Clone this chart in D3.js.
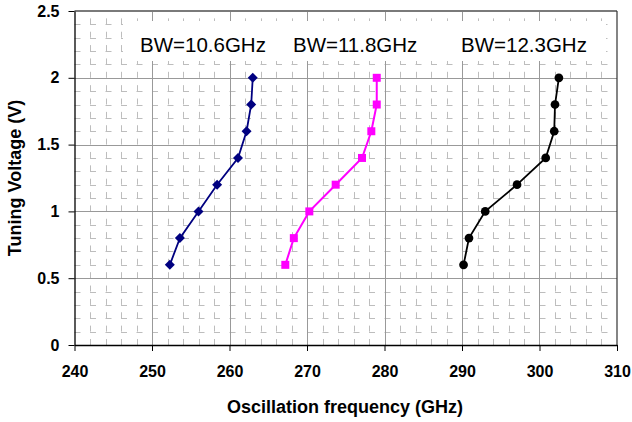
<!DOCTYPE html>
<html>
<head>
<meta charset="utf-8">
<script src="https://cdn.jsdelivr.net/npm/d3@7"></script>
<style>
  body { margin: 0; background: #fff; }
  svg { display: block; }
</style>
</head>
<body>
<div id="chart"></div>
<script>
const voltage = [0.6, 0.8, 1.0, 1.2, 1.4, 1.6, 1.8, 2.0];
const freqBW106 = [252.3, 253.6, 256.0, 258.4, 261.1, 262.2, 262.8, 263.0];
const freqBW118 = [267.2, 268.3, 270.3, 273.7, 277.1, 278.3, 279.0, 279.0];
const freqBW123 = [290.2, 290.9, 293.0, 297.1, 300.8, 301.9, 302.0, 302.5];
const seriesLabels = ["BW=10.6GHz", "BW=11.8GHz", "BW=12.3GHz"];
const xTicks = [240, 250, 260, 270, 280, 290, 300, 310];
const yTicks = [0, 0.5, 1, 1.5, 2, 2.5];

(function() {
  const width = 632, height = 422;
  const left = 74.5, right = 617, top = 11, bottom = 345;

  const svg = d3.select("#chart").append("svg")
    .attr("width", width).attr("height", height);

  const x = d3.scaleLinear().domain([240, 310]).range([left, right]);
  const y = d3.scaleLinear().domain([0, 2.5]).range([bottom, top]);

  // minor dashed grid
  const xMinor = d3.range(240, 310.01, 2).filter(v => v % 10 !== 0);
  const yMinor = d3.range(0, 25).map(i => i / 10).filter(v => Math.round(v * 10) % 5 !== 0);
  const px = x(242) - x(240), py = y(0) - y(0.1);

  svg.append("g").selectAll("line").data(yMinor).join("line")
    .attr("x1", left).attr("x2", right)
    .attr("y1", d => Math.round(y(d)) + 0.5).attr("y2", d => Math.round(y(d)) + 0.5)
    .attr("stroke", "#bdbdbd").attr("stroke-width", 1)
    .attr("stroke-dasharray", `6 ${px - 6}`);

  svg.append("g").selectAll("line").data(xMinor).join("line")
    .attr("x1", d => Math.round(x(d)) + 0.5).attr("x2", d => Math.round(x(d)) + 0.5)
    .attr("y1", bottom).attr("y2", top)
    .attr("stroke", "#bdbdbd").attr("stroke-width", 1)
    .attr("stroke-dasharray", `6 ${py - 6}`);

  // major grid
  svg.append("g").selectAll("line").data(yTicks.slice(1, -1)).join("line")
    .attr("x1", left).attr("x2", right)
    .attr("y1", d => Math.round(y(d)) + 0.5).attr("y2", d => Math.round(y(d)) + 0.5)
    .attr("stroke", "#999").attr("stroke-width", 1);
  svg.append("g").selectAll("line").data(xTicks.slice(1, -1)).join("line")
    .attr("x1", d => Math.round(x(d)) + 0.5).attr("x2", d => Math.round(x(d)) + 0.5)
    .attr("y1", bottom).attr("y2", top)
    .attr("stroke", "#999").attr("stroke-width", 1);

  // label boxes (white fill hiding grid)
  svg.append("rect").attr("x", 123).attr("y", 21).attr("width", 317).attr("height", 40).attr("fill", "#fff");
  svg.append("rect").attr("x", 446).attr("y", 21).attr("width", 160).attr("height", 40).attr("fill", "#fff");

  // frame
  svg.append("line").attr("x1", left).attr("x2", right).attr("y1", top).attr("y2", top)
    .attr("stroke", "#7a7a7a").attr("stroke-width", 2);
  svg.append("line").attr("x1", right).attr("x2", right).attr("y1", top).attr("y2", bottom)
    .attr("stroke", "#333").attr("stroke-width", 1.2);

  // axes
  const xAxis = svg.append("g").attr("transform", `translate(0,${bottom})`)
    .call(d3.axisBottom(x).tickValues(xTicks).tickSize(6).tickPadding(15).tickSizeOuter(0));
  const yAxis = svg.append("g").attr("transform", `translate(${left},0)`)
    .call(d3.axisLeft(y).tickValues(yTicks).tickSize(6).tickPadding(9).tickSizeOuter(0)
      .tickFormat(d3.format("")));
  [xAxis, yAxis].forEach(a => {
    a.select(".domain").attr("stroke", "#000").attr("stroke-width", 1.3);
    a.selectAll(".tick line").attr("stroke", "#000");
    a.selectAll("text").attr("fill", "#000")
      .style("font-family", "Liberation Sans, Arial, sans-serif")
      .style("font-size", "16px").style("font-weight", "bold");
  });

  // series
  const series = [
    { label: seriesLabels[0], freq: freqBW106, color: "#000080", symbol: d3.symbolSquare, size: 50, rot: 45, lw: 1.8 },
    { label: seriesLabels[1], freq: freqBW118, color: "#ff00ff", symbol: d3.symbolSquare, size: 64, rot: 0, lw: 2 },
    { label: seriesLabels[2], freq: freqBW123, color: "#000000", symbol: d3.symbolCircle, size: 60, rot: 0, lw: 1.8 }
  ];
  const line = d3.line().x(d => x(d[0])).y(d => y(d[1]));

  series.forEach(s => {
    const pts = s.freq.map((f, i) => [f, voltage[i]]);
    svg.append("path").datum(pts).attr("d", line)
      .attr("fill", "none").attr("stroke", s.color).attr("stroke-width", s.lw);
    svg.append("g").selectAll("path").data(pts).join("path")
      .attr("d", d3.symbol().type(s.symbol).size(s.size))
      .attr("transform", d => `translate(${x(d[0])},${y(d[1])}) rotate(${s.rot})`)
      .attr("fill", s.color);
  });

  // BW labels
  const labelX = [140, 293, 461];
  svg.append("g").selectAll("text").data(series).join("text")
    .attr("x", (d, i) => labelX[i]).attr("y", 52)
    .style("font-family", "Liberation Sans, Arial, sans-serif")
    .style("font-size", "20.5px").attr("fill", "#000")
    .text(d => d.label);

  // axis titles
  svg.append("text").attr("x", 345).attr("y", 413)
    .attr("text-anchor", "middle")
    .style("font-family", "Liberation Sans, Arial, sans-serif")
    .style("font-size", "18px").style("font-weight", "bold")
    .text("Oscillation frequency (GHz)");
  svg.append("text").attr("transform", `translate(21,${(top + bottom) / 2}) rotate(-90)`)
    .attr("text-anchor", "middle")
    .style("font-family", "Liberation Sans, Arial, sans-serif")
    .style("font-size", "18px").style("font-weight", "bold")
    .text("Tuning Voltage (V)");
})();
</script>
</body>
</html>
